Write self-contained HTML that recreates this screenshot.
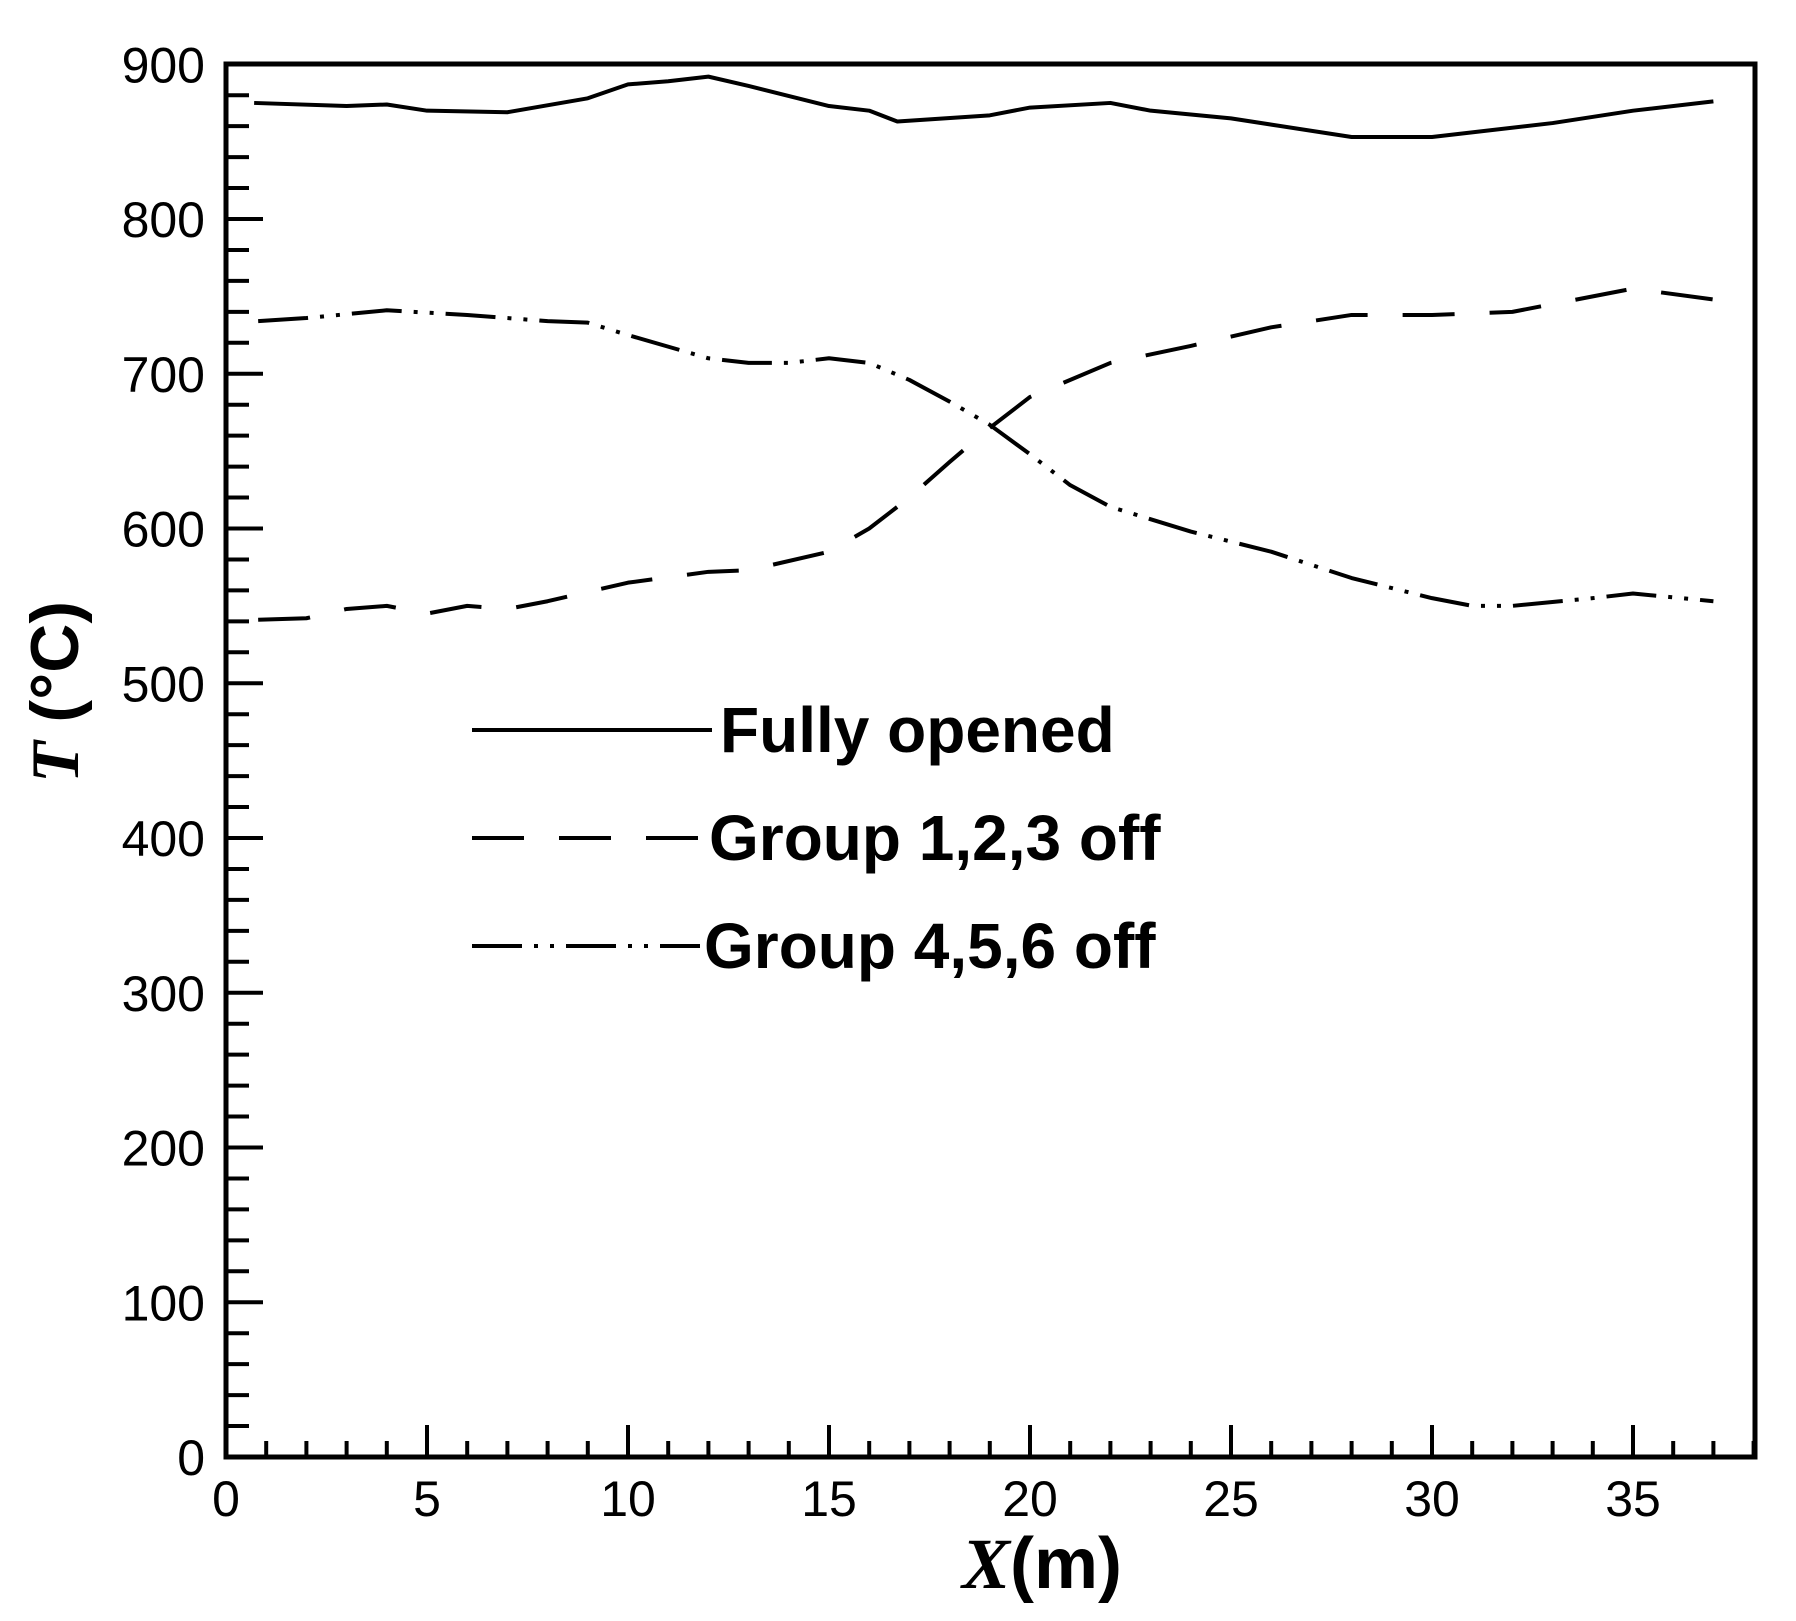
<!DOCTYPE html>
<html><head><meta charset="utf-8"><style>
html,body{margin:0;padding:0;background:#fff;}
svg{display:block;}
text{font-family:"Liberation Sans",Arial,sans-serif;fill:#000;}
</style></head><body>
<svg id="s" width="1796" height="1621" viewBox="0 0 1796 1621" xmlns="http://www.w3.org/2000/svg">
<rect x="226" y="64" width="1529" height="1393" fill="none" stroke="#000" stroke-width="5"/>
<g id="ticks" stroke="#000" stroke-width="4"></g>
<g id="lbl" font-size="50"></g>
<g id="series" fill="none" stroke="#000" stroke-width="4" stroke-linejoin="round"></g>
<!-- legend -->
<line x1="472" y1="730" x2="712" y2="730" stroke="#000" stroke-width="4"/>
<text x="720" y="752" font-size="64" font-weight="bold">Fully opened</text>
<line x1="472" y1="838" x2="702" y2="838" stroke="#000" stroke-width="4" stroke-dasharray="52,35"/>
<text x="709" y="860" font-size="64" font-weight="bold">Group 1,2,3 off</text>
<line x1="472" y1="946" x2="700" y2="946" stroke="#000" stroke-width="4" stroke-dasharray="50,12,4,12,4,12"/>
<text x="704" y="968" font-size="64" font-weight="bold">Group 4,5,6 off</text>
<text x="962" y="1588" font-size="72" font-weight="bold"><tspan font-family="Liberation Serif,serif" font-style="italic">X</tspan>(m)</text>
<text transform="translate(78,692) rotate(-90)" text-anchor="middle" font-size="68" font-weight="bold"><tspan font-family="Liberation Serif,serif" font-style="italic">T</tspan> (°C)</text>
</svg>
<script>
var NS="http://www.w3.org/2000/svg";
function X(x){return 226+40.2*x;} function Y(t){return 1457-1.5475*t;}
function el(p,n,a){var e=document.createElementNS(NS,n);for(var k in a)e.setAttribute(k,a[k]);p.appendChild(e);return e;}
var tk=document.getElementById('ticks'),lb=document.getElementById('lbl');
for(var t=0;t<=900;t+=20){var maj=t%100==0;var y=Y(t);el(tk,'line',{x1:226,y1:y,x2:226+(maj?37:23),y2:y});
 if(maj){var e=el(lb,'text',{x:205,y:y+18,'text-anchor':'end'});e.textContent=t;}}
for(var x=0;x<=38;x++){var maj=x%5==0;var xx=X(x);el(tk,'line',{x1:xx,y1:1457,x2:xx,y2:1457-(maj?32:16)});
 if(maj){var e=el(lb,'text',{x:xx,y:1516,'text-anchor':'middle'});e.textContent=x;}}
var S=[
[[0.7,875],[3,873],[4,874],[5,870],[7,869],[9,878],[10,887],[11,889],[12,892],[13,886],[15,873],[16,870],[16.7,863],[19,867],[20,872],[22,875],[23,870],[25,865],[28,853],[30,853],[33,862],[35,870],[37,876]],
[[0.8,541],[2,542],[3,548],[4,550],[5,545],[6,550],[7,548],[8,553],[10,565],[12,572],[13,573],[15,585],[16,600],[17,620],[18,643],[19,665],[20,685],[22,707],[24,718],[26,730],[28,738],[30,738],[32,740],[34,750],[35,755],[37,748]],
[[0.8,734],[2,736],[4,741],[6,738],[8,734],[9,733],[10,725],[12,710],[13,707],[14,707],[15,710],[16,707],[17,696],[18,682],[19,667],[20,648],[21,628],[22,614],[24,598],[26,585],[28,568],[30,555],[31,550],[32,550],[34,555],[35,558],[37,553]]];
var dash=["none","52,35","50,12,4,12,4,12"];
var g=document.getElementById('series');
S.forEach(function(d,i){el(g,'polyline',{points:d.map(function(p){return X(p[0])+','+Y(p[1]);}).join(' '),'stroke-dasharray':dash[i]});});
</script>
</body></html>
